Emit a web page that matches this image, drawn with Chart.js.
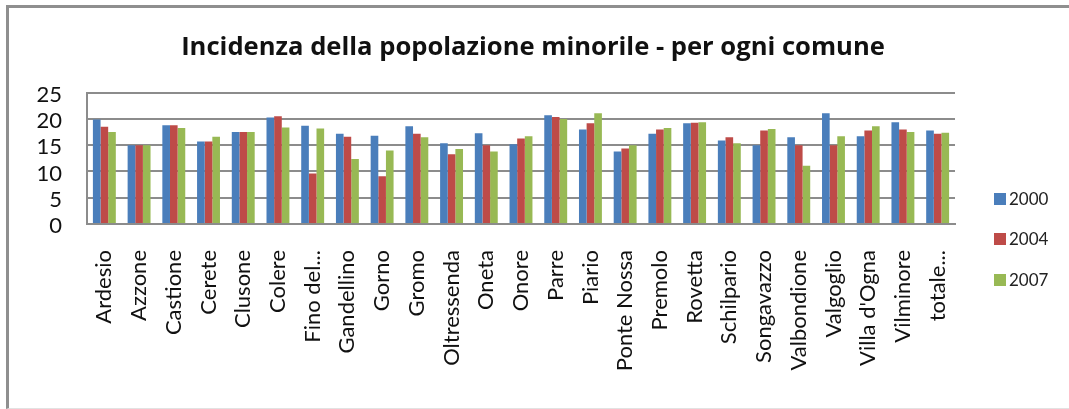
<!DOCTYPE html>
<html>
<head>
<meta charset="utf-8">
<script src="https://cdn.jsdelivr.net/npm/chart.js@4/dist/chart.umd.min.js"></script>
<style>
  html, body { margin: 0; padding: 0; background: #fff; }
  #wrap { position: relative; width: 1069px; height: 409px; overflow: hidden; }
  #frame { position: absolute; left: 6px; top: 5px; right: -10px; bottom: 0px;
           border-left: 3px solid #8f8f8f; border-top: 3px solid #8f8f8f;
           border-bottom: 1px solid #e2e2e2; }
  canvas { position: absolute; left: 0; top: 0; }
</style>
</head>
<body>
<div id="wrap">
  <div id="frame"></div>
  <canvas id="c" width="1069" height="409"></canvas>
</div>
<script>
const titleText = "Incidenza della popolazione minorile - per ogni comune";
const categories = ["Ardesio", "Azzone", "Castione", "Cerete", "Clusone", "Colere", "Fino del...",
  "Gandellino", "Gorno", "Gromo", "Oltressenda", "Oneta", "Onore", "Parre", "Piario",
  "Ponte Nossa", "Premolo", "Rovetta", "Schilpario", "Songavazzo", "Valbondione",
  "Valgoglio", "Villa d'Ogna", "Vilminore", "totale..."];
const seriesNames = ["2000", "2004", "2007"];
const values2000 = [19.9, 15.0, 18.8, 15.7, 17.5, 20.3, 18.7, 17.2, 16.8, 18.6, 15.4, 17.3, 15.2,
  20.7, 18.0, 13.8, 17.2, 19.2, 15.9, 15.0, 16.5, 21.1, 16.7, 19.4, 17.8];
const values2004 = [18.5, 15.0, 18.8, 15.7, 17.5, 20.5, 9.6, 16.6, 9.1, 17.2, 13.3, 15.0, 16.3,
  20.4, 19.2, 14.4, 18.0, 19.3, 16.5, 17.8, 15.0, 15.0, 17.8, 18.0, 17.2];
const values2007 = [17.5, 15.0, 18.3, 16.6, 17.5, 18.4, 18.2, 12.4, 14.0, 16.5, 14.3, 13.8, 16.7,
  20.0, 21.1, 15.0, 18.3, 19.4, 15.4, 18.1, 11.1, 16.7, 18.6, 17.5, 17.4];
const yMin = 0, yMax = 25, yStep = 5;

const colors = ["#4A7EBB", "#BE4B48", "#98B954"];
const FONT = "Lato, 'Open Sans', sans-serif";

const layoutPlugin = {
  id: 'titleSpan',
  afterLayout(chart) {
    const t = chart.titleBlock;
    if (t) { t.left = 0; t.right = 1066; t.width = 1066; }
  }
};

const legendPlugin = {
  id: 'sideLegend',
  afterDraw(chart) {
    const ctx = chart.ctx;
    const ys = [199, 239, 280];
    ctx.save();
    ctx.font = "17px " + FONT;
    ctx.textBaseline = 'middle';
    ctx.textAlign = 'left';
    chart.data.datasets.forEach((ds, i) => {
      ctx.fillStyle = ds.backgroundColor;
      ctx.fillRect(994, ys[i] - 6, 12, 12);
      ctx.fillStyle = '#222';
      ctx.fillText(ds.label, 1009, ys[i] + 1);
    });
    ctx.restore();
  }
};

new Chart(document.getElementById('c'), {
  type: 'bar',
  data: {
    labels: categories,
    datasets: [
      { label: seriesNames[0], data: values2000, backgroundColor: colors[0] },
      { label: seriesNames[1], data: values2004, backgroundColor: colors[1] },
      { label: seriesNames[2], data: values2007, backgroundColor: colors[2] }
    ]
  },
  options: {
    responsive: false,
    animation: false,
    layout: { padding: { left: 0, right: 114, top: 0, bottom: 0 } },
    datasets: { bar: { categoryPercentage: 0.66, barPercentage: 1.0 } },
    plugins: {
      legend: { display: false },
      tooltip: { enabled: false },
      title: {
        display: true,
        text: titleText,
        color: '#111',
        font: { family: "'Open Sans', Lato, sans-serif", size: 25.6, weight: 'bold' },
        padding: { top: 32, bottom: 30 }
      }
    },
    scales: {
      x: {
        grid: { display: false, drawTicks: false },
        border: { display: true, color: '#8c8c8c', width: 2 },
        ticks: {
          autoSkip: false, maxRotation: 90, minRotation: 90, padding: 26,
          color: '#111', font: { family: FONT, size: 22 }
        },
        afterFit(scale) { scale.height = 409 - 224; }
      },
      y: {
        min: yMin, max: yMax,
        grid: { color: '#8c8c8c', lineWidth: 2, drawTicks: false },
        border: { display: true, color: '#8c8c8c', width: 2 },
        ticks: { stepSize: yStep, autoSkip: false, padding: 25, labelOffset: 2, color: '#111',
                 font: { family: FONT, size: 22 } },
        afterFit(scale) { scale.width = 87; }
      }
    }
  },
  plugins: [layoutPlugin, legendPlugin]
});
</script>
</body>
</html>
